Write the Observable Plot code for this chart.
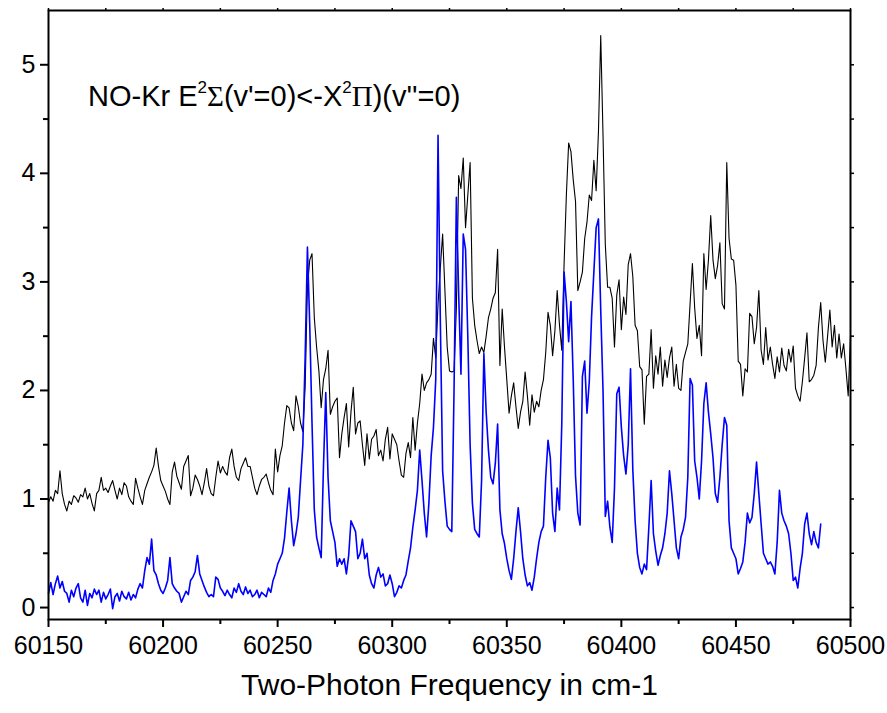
<!DOCTYPE html>
<html>
<head>
<meta charset="utf-8">
<script src="https://cdn.jsdelivr.net/npm/d3@7"></script>
<script src="https://cdn.jsdelivr.net/npm/@observablehq/plot@0.6"></script>
<style>
  html, body { margin: 0; padding: 0; background: #fff; }
  #wrap { position: relative; width: 887px; height: 713px; font-family: "Liberation Sans", Arial, sans-serif; }
  #title { position: absolute; left: 88px; top: 80px; font-size: 29px; color: #000; white-space: nowrap; }
  #title sup { font-size: 17px; vertical-align: 0; position: relative; top: -13px; }
  #title .g { font-family: "Liberation Serif", "DejaVu Serif", serif; }
</style>
</head>
<body>
<div id="wrap">
  <div id="chart"></div>
  <div id="title">NO-Kr E<sup>2</sup><span class="g">Σ</span>(v'=0)&lt;-X<sup>2</sup><span class="g">Π</span>)(v''=0)</div>
</div>
<script>
// ---- data ----
const blackStart = 60150; // cm-1, 1 cm-1 spacing
const blackSignal = [
0.97,1.02,0.98,1.08,1.05,1.26,1.05,0.95,0.89,0.98,
0.95,1.03,1.01,0.97,1.04,1.02,1.10,1.00,1.05,0.96,
0.89,1.05,1.08,1.20,1.08,1.10,1.06,1.12,1.17,1.08,
1.00,1.10,1.04,1.15,1.12,1.02,0.98,0.95,1.19,1.10,
1.02,0.95,1.08,1.14,1.20,1.25,1.31,1.47,1.30,1.17,
1.12,1.07,1.00,0.95,1.25,1.34,1.21,1.15,1.09,1.30,
1.35,1.40,1.03,1.10,1.22,1.18,1.12,1.04,1.15,1.28,
1.12,1.05,1.03,1.20,1.35,1.24,1.30,1.25,1.22,1.38,
1.46,1.30,1.20,1.17,1.28,1.33,1.38,1.30,1.30,1.20,
1.10,1.04,1.12,1.18,1.20,1.23,1.15,1.08,1.04,1.46,
1.25,1.40,1.49,1.70,1.86,1.84,1.70,1.63,1.95,1.85,
1.70,1.62,2.03,2.95,3.20,3.26,2.67,2.40,2.18,1.84,
2.10,2.20,2.37,1.78,1.85,1.90,1.93,1.38,1.60,1.75,
1.88,1.48,1.80,2.03,1.60,1.70,1.72,1.50,1.31,1.60,
1.37,1.55,1.58,1.64,1.40,1.45,1.35,1.55,1.66,1.37,
1.60,1.55,1.50,1.35,1.22,1.20,1.42,1.52,1.38,1.75,
1.45,1.70,1.88,2.15,2.00,2.07,2.10,2.15,2.48,2.30,
2.80,3.13,3.44,2.92,2.40,2.18,2.17,2.18,2.76,3.98,
3.86,4.14,3.50,3.80,4.10,2.85,2.60,2.46,2.34,2.40,
2.35,2.50,2.67,2.75,2.85,2.90,3.30,2.23,2.75,2.40,
2.10,1.79,1.95,2.07,1.85,1.65,1.80,1.90,2.17,1.95,
1.68,1.96,1.80,1.90,1.85,2.00,2.10,2.35,2.72,2.60,
2.32,2.55,2.92,2.60,2.37,3.16,3.80,4.28,4.20,3.94,
3.74,2.92,3.00,3.09,3.40,3.55,3.80,3.75,4.12,3.84,
4.38,5.27,4.35,3.34,2.95,2.95,2.85,2.40,2.88,3.02,
2.56,2.86,2.70,3.16,3.26,3.05,2.60,2.55,2.22,2.19,
1.69,2.13,2.15,2.56,2.02,2.32,2.15,2.40,2.04,2.28,
2.12,2.30,2.40,2.04,2.24,2.02,2.00,2.27,2.35,2.43,
2.80,3.17,2.76,2.48,2.60,2.32,3.26,2.93,3.20,3.61,
3.20,3.03,3.15,3.36,2.80,2.75,4.10,3.40,3.21,3.20,
2.97,2.27,2.24,1.95,2.20,2.17,2.71,2.68,2.43,2.58,
2.92,2.37,2.24,2.58,2.28,2.40,2.24,2.11,2.31,2.17,
2.39,2.23,2.18,2.38,2.26,2.41,2.02,1.95,1.90,2.08,
2.30,2.53,2.08,2.10,2.14,2.23,2.58,2.81,2.46,2.26,
2.50,2.74,2.40,2.60,2.30,2.52,2.30,2.43,2.20,1.95,
2.50
];
const blueStart = 60150; // cm-1, 1 cm-1 spacing, ends at 60487
const blueSignal = [
0.13,0.23,0.12,0.22,0.29,0.18,0.24,0.15,0.13,0.05,
0.16,0.10,0.18,0.22,0.09,0.05,0.16,0.02,0.13,0.09,
0.17,0.12,0.16,0.05,0.14,0.08,0.12,0.17,-0.01,0.10,
0.13,0.06,0.15,0.10,0.08,0.14,0.07,0.12,0.09,0.17,
0.22,0.18,0.34,0.46,0.40,0.63,0.34,0.30,0.22,0.16,
0.13,0.18,0.25,0.46,0.22,0.18,0.15,0.13,0.05,0.10,
0.15,0.12,0.25,0.28,0.33,0.48,0.31,0.25,0.19,0.14,
0.10,0.12,0.10,0.28,0.26,0.18,0.15,0.11,0.16,0.12,
0.09,0.18,0.14,0.22,0.15,0.12,0.19,0.13,0.16,0.10,
0.12,0.16,0.09,0.14,0.12,0.10,0.18,0.14,0.25,0.31,
0.40,0.45,0.50,0.64,0.88,1.10,0.80,0.57,0.68,0.83,
1.17,1.50,2.30,3.32,2.61,1.70,0.90,0.65,0.55,0.46,
1.30,1.98,1.20,0.80,0.70,0.60,0.38,0.45,0.40,0.45,
0.31,0.48,0.80,0.75,0.70,0.45,0.50,0.63,0.45,0.50,
0.30,0.22,0.18,0.30,0.37,0.28,0.31,0.20,0.22,0.30,
0.22,0.10,0.14,0.20,0.18,0.25,0.30,0.43,0.55,0.74,
0.90,1.08,1.45,1.17,0.87,0.65,0.96,1.40,1.66,2.10,
4.35,2.64,1.26,0.98,0.75,0.72,0.70,2.03,3.78,2.89,
2.15,3.44,3.30,2.49,1.50,0.96,0.72,0.68,0.65,1.17,
2.34,1.80,1.45,1.20,1.14,1.33,1.69,0.90,0.68,0.59,
0.45,0.34,0.26,0.45,0.70,0.92,0.70,0.45,0.30,0.20,
0.23,0.16,0.28,0.45,0.60,0.70,0.75,1.20,1.54,1.38,
0.87,0.70,1.10,0.90,1.69,3.09,2.82,2.45,2.82,2.10,
1.21,0.87,0.76,2.13,2.27,1.79,2.08,2.68,3.09,3.50,
3.58,2.74,2.00,0.84,0.98,0.74,0.60,1.10,1.97,2.03,
1.66,1.40,1.23,1.50,2.20,1.27,0.80,0.50,0.37,0.31,
0.40,0.35,0.74,1.17,0.68,0.52,0.39,0.48,0.55,0.68,
0.87,1.26,1.05,0.80,0.55,0.45,0.65,0.72,0.83,1.20,
2.11,2.05,1.35,1.20,1.00,1.35,1.88,2.07,1.80,1.60,
1.38,1.05,0.97,1.20,1.50,1.75,1.68,0.80,0.55,0.50,
0.45,0.31,0.36,0.42,0.60,0.87,0.78,0.83,1.05,1.34,
1.05,0.77,0.50,0.45,0.40,0.42,0.38,0.31,0.60,1.08,
0.87,0.80,0.75,0.68,0.50,0.25,0.28,0.18,0.36,0.50,
0.77,0.87,0.68,0.58,0.70,0.60,0.55,0.77
];
const xMajorTicks = [60150, 60200, 60250, 60300, 60350, 60400, 60450, 60500];
const xMinorTicks = [60175, 60225, 60275, 60325, 60375, 60425, 60475];
const yMajorTicks = [0, 1, 2, 3, 4, 5];
const yMinorTicks = [0.5, 1.5, 2.5, 3.5, 4.5];
const xLabel = "Two-Photon Frequency in cm-1";

// ---- build tables ----
const black = blackSignal.map((v, i) => ({x: blackStart + i, y: v}));
const blue = blueSignal.map((v, i) => ({x: blueStart + i, y: v}));

const chart = Plot.plot({
  width: 887,
  height: 713,
  marginLeft: 48,
  marginRight: 37,
  marginTop: 10,
  marginBottom: 94,
  style: {fontFamily: "'Liberation Sans', Arial, sans-serif", fontSize: "25px", color: "#000", background: "#fff"},
  x: {domain: [60150, 60500]},
  y: {domain: [-0.11, 5.5]},
  marks: [
    Plot.line(black, {x: "x", y: "y", stroke: "#000", strokeWidth: 1.1}),
    Plot.line(blue, {x: "x", y: "y", stroke: "#0000ff", strokeWidth: 1.6}),
    Plot.frame({stroke: "#000", strokeWidth: 2}),
    Plot.axisX({ticks: xMajorTicks, tickSize: 8, tickPadding: 9, tickFormat: d => String(d), fontSize: 25, strokeWidth: 2, label: null}),
    Plot.axisX({ticks: xMinorTicks, tickSize: 5, tickFormat: () => "", strokeWidth: 2, label: null}),
    Plot.axisX({anchor: "top", ticks: xMajorTicks.concat(xMinorTicks), tickSize: 3, tickFormat: () => "", strokeWidth: 1.5, label: null}),
    Plot.axisY({ticks: yMajorTicks, tickSize: 8, tickPadding: 5, tickFormat: d => String(d), fontSize: 25, strokeWidth: 2, label: null}),
    Plot.axisY({ticks: yMinorTicks, tickSize: 5, tickFormat: () => "", strokeWidth: 2, label: null}),
    Plot.axisY({anchor: "right", ticks: yMajorTicks.concat(yMinorTicks), tickSize: 3, tickFormat: () => "", strokeWidth: 1.5, label: null}),
    Plot.text([xLabel], {text: d => d, frameAnchor: "bottom", dy: 75, fontSize: 30})
  ]
});
document.getElementById("chart").appendChild(chart);
</script>
</body>
</html>
